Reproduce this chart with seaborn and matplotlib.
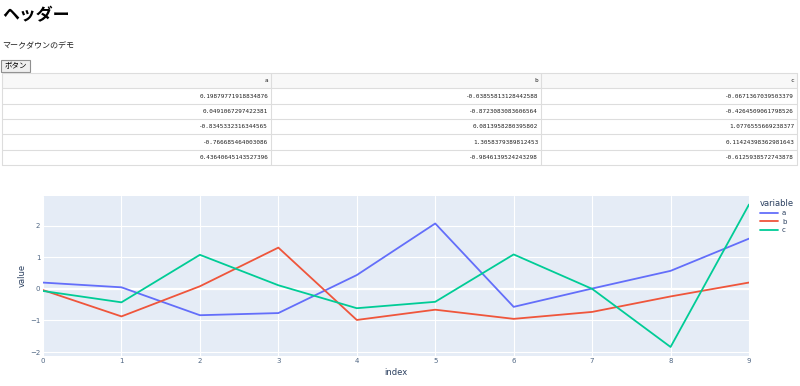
import matplotlib
matplotlib.use("Agg")
import matplotlib.pyplot as plt
import seaborn as sns
import pandas as pd
import numpy as np
from matplotlib.patches import Rectangle
from matplotlib.lines import Line2D

# ---- data ----
idx = list(range(10))
a = [0.19879771918834876, 0.04910672974223810, -0.8345332316344565, -0.766685464003086,
     0.43640645143527396, 2.07, -0.57, 0.01, 0.57, 1.59]
b = [-0.03855813128442588, -0.8723083083606564, 0.08139582803958021, 1.3058379389812453,
     -0.9846139524243298, -0.66, -0.95, -0.73, -0.24, 0.20]
c = [-0.0671367039503379, -0.4264509061798526, 1.0776555669238377, 0.11424398362981643,
     -0.6125938572743878, -0.41, 1.09, 0.0, -1.84, 2.67]
columns = ["a", "b", "c"]
title_text = "ヘッダー"
md_text = "マークダウンのデモ"
button_text = "ボタン"
colors = {"a": "#636EFA", "b": "#EF553B", "c": "#00CC96"}

df = pd.DataFrame({"index": idx, "a": a, "b": b, "c": c})
long = df.melt(id_vars="index", var_name="variable", value_name="value")

sns.set_theme(style="white")
plt.rcParams['font.family'] = ['DejaVu Sans']
CJK = ['Noto Sans CJK JP', 'DejaVu Sans']

W, H = 800, 386
fig = plt.figure(figsize=(W / 100, H / 100), dpi=100)
fig.patch.set_facecolor("white")

bg = fig.add_axes([0, 0, 1, 1])
bg.set_xlim(0, W)
bg.set_ylim(H, 0)
bg.axis("off")

# header texts
bg.text(2, 15.5, title_text, fontsize=12.2, fontweight="bold", family=CJK,
        va="center", ha="left", color="black")
bg.text(2, 46, md_text, fontsize=5.8, family=CJK, va="center", ha="left", color="#222222")
bg.add_patch(Rectangle((1, 60), 29, 12, facecolor="#efefef", edgecolor="#8f8f8f", lw=0.8))
bg.text(15.5, 66, button_text, fontsize=5.4, family=CJK, va="center", ha="center", color="black")

# table
col_edges = [2, 271, 541, 797]
row_edges = [73, 88, 104, 119, 134, 150, 165]
bg.add_patch(Rectangle((col_edges[0], row_edges[0]), col_edges[-1] - col_edges[0],
                       row_edges[1] - row_edges[0], facecolor="#f8f8f8", edgecolor="none"))
for y in row_edges:
    bg.add_line(Line2D([col_edges[0], col_edges[-1]], [y, y], color="#dddddd", lw=0.8))
for x in col_edges:
    bg.add_line(Line2D([x, x], [row_edges[0], row_edges[-1]], color="#dddddd", lw=0.8))
series = {"a": a, "b": b, "c": c}
for j, col in enumerate(columns):
    xr = col_edges[j + 1] - 3
    yc = (row_edges[0] + row_edges[1]) / 2
    bg.text(xr, yc, col, fontsize=4.3, family="DejaVu Sans Mono", ha="right", va="center", color="#222222")
    for i in range(5):
        yc = (row_edges[i + 1] + row_edges[i + 2]) / 2
        bg.text(xr, yc, repr(series[col][i]), fontsize=4.3, family="DejaVu Sans Mono",
                ha="right", va="center", color="#222222")

# chart
px0, px1, py0, py1 = 43, 749, 196, 355.5
ax = fig.add_axes([px0 / W, 1 - py1 / H, (px1 - px0) / W, (py1 - py0) / H])
ax.set_facecolor("#E5ECF6")
sns.lineplot(data=long, x="index", y="value", hue="variable", palette=colors,
             ax=ax, linewidth=1.3, legend=True)
ax.set_xlim(0, 9)
ax.set_ylim(-2.11, 2.94)
ax.set_xticks(range(10))
ax.set_yticks([-2, -1, 0, 1, 2])
ax.grid(True, color="white", lw=0.8)
ax.axhline(0, color="white", lw=1.6, zorder=0.5)
ax.set_axisbelow(True)
for s in ax.spines.values():
    s.set_visible(False)
tc = "#2a3f5f"
ax.tick_params(axis="both", length=0, labelsize=5, labelcolor="#506784", pad=2)
ax.set_xlabel("index", fontsize=6, color=tc, labelpad=3)
ax.set_ylabel("value", fontsize=6, color=tc, labelpad=2)

handles, labels = ax.get_legend_handles_labels()
leg = ax.legend(handles, labels, title="variable", loc="upper left",
                bbox_to_anchor=(757 / W, 1 - 196 / H), bbox_transform=fig.transFigure,
                frameon=False, fontsize=5, title_fontsize=6, handlelength=2.6,
                labelspacing=0.35, handletextpad=0.6, borderaxespad=0)
leg._legend_box.align = "left"
for t in leg.get_texts():
    t.set_color(tc)
leg.get_title().set_color(tc)

fig.savefig("out.png", dpi=100, facecolor="white")
